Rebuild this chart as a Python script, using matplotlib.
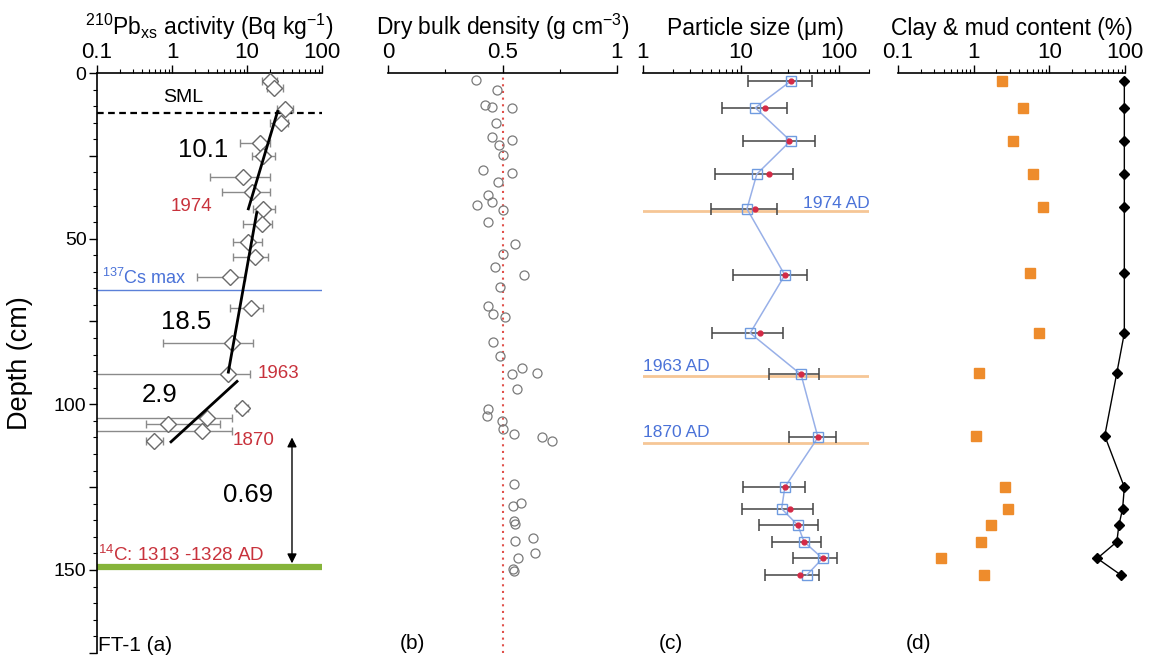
import matplotlib
matplotlib.use("Agg")
import numpy as np
import matplotlib.pyplot as plt
from matplotlib.ticker import FixedLocator, MultipleLocator, NullFormatter, LogLocator, FuncFormatter

plt.rcParams['font.family'] = ['Liberation Sans', 'DejaVu Sans']
plt.rcParams['mathtext.fontset'] = 'custom'
plt.rcParams['mathtext.rm'] = 'Liberation Sans'
plt.rcParams['mathtext.it'] = 'Liberation Sans:italic'
plt.rcParams['mathtext.bf'] = 'Liberation Sans:bold'

# ---------------- (a) 210Pb excess activity ----------------
pb_depth = [2.5, 4.5, 11, 15, 21, 25, 31.5, 36, 41, 45.5, 51, 55.5, 61.5, 71, 81.5, 91, 101, 104, 106, 108, 111]
pb_act   = [20, 23, 32, 28, 14.9, 16.5, 8.8, 11.7, 16.3, 15.8, 10.3, 12.8, 5.9, 11.3, 6.3, 5.6, 8.6, 2.9, 0.89, 2.5, 0.58]
pb_lo    = [15.9, 18.5, 25, 20.3, 8.1, 11.7, 3.2, 4.6, 12, 8.8, 6.5, 6.5, 2.15, 5.9, 0.76, 0.05, 7.2, 0.05, 0.45, 0.05, 0.45]
pb_hi    = [25, 30, 41, 35.2, 20.3, 23.6, 20.3, 20.3, 23.6, 21.5, 15.9, 19, 9.4, 16.3, 12, 11, 10.2, 6.3, 4.4, 6.3, 0.75]

# CF:CS fit segments, end points as (activity, depth)
seg_act   = [[25.9, 10.3], [13.6, 5.6], [7.6, 0.94]]
seg_depth = [[11.2, 41.4], [41.7, 90.7], [92.8, 111.6]]

sml_depth = 12.1
cs_depth = 65.6
c14_depth = 149

# ---------------- (b) dry bulk density ----------------
dbd_depth = [2.1, 5.1, 9.7, 10.2, 10.6, 15.2, 19.3, 20.3, 21.8, 24.8, 29.3, 30.3, 32.9, 36.9,
             38.9, 39.9, 41.4, 45, 51.5, 54.6, 58.6, 61.1, 64.6, 70.2, 72.7, 73.7, 81.3, 85.3,
             88.9, 90.4, 90.8, 95.3, 101.3, 103.4, 105, 107.5, 109, 110, 111, 124, 129.7, 130.6,
             135.2, 136, 140.3, 141.2, 144.8, 146.3, 149.7, 150.3]
dbd_val   = [0.384, 0.476, 0.424, 0.453, 0.541, 0.472, 0.452, 0.541, 0.484, 0.503, 0.415, 0.541,
             0.48, 0.437, 0.452, 0.389, 0.503, 0.437, 0.555, 0.503, 0.467, 0.594, 0.489, 0.437,
             0.459, 0.511, 0.459, 0.489, 0.585, 0.65, 0.541, 0.563, 0.437, 0.432, 0.498, 0.503,
             0.55, 0.672, 0.716, 0.55, 0.58, 0.546, 0.55, 0.555, 0.633, 0.555, 0.642, 0.568,
             0.546, 0.55]
dbd_mean = 0.5

# ---------------- (c) particle size ----------------
ps_depth = [2.5, 10.5, 20.5, 30.5, 41, 61, 78.5, 91, 110, 125, 131.5, 136.5, 141.5, 146.5, 151.5]
ps_mode  = [32, 14, 32, 14.5, 11.5, 28, 12.4, 41, 61, 28, 26, 38, 44, 68, 47]
ps_mean  = [32, 17.5, 31, 19.5, 14, 28, 15.5, 41, 61, 28, 31.5, 38, 44, 68, 40]
ps_lo    = [11.8, 6.4, 10.5, 5.4, 4.9, 8.3, 5.1, 19.3, 31, 10.5, 10.2, 15.3, 20.7, 34, 17.5]
ps_hi    = [52.7, 29.5, 57, 34, 23.4, 47, 26.8, 62.5, 93, 45, 54, 61, 65, 95, 62.5]

age_labels = ["1974 AD", "1963 AD", "1870 AD"]
age_depth  = [41.6, 91.6, 111.7]

# ---------------- (d) clay & mud content ----------------
cm_depth = [2.5, 10.5, 20.5, 30.5, 40.5, 60.5, 78.5, 90.5, 109.5, 125, 131.5, 136.5, 141.5, 146.5, 151.5]
clay     = [2.4, 4.5, 3.3, 6.1, 8.2, 5.5, 7.3, 1.17, 1.07, 2.6, 2.85, 1.7, 1.25, 0.37, 1.37]
mud      = [98, 98, 98, 98, 98, 98, 98, 78, 54, 98, 93, 83, 78, 43, 88]

W, H = 1151, 659
fig = plt.figure(figsize=(W / 100, H / 100), dpi=100)

top_px, bot_px = 73, 652.8
def add_panel(x0, x1):
    return fig.add_axes([x0 / W, 1 - bot_px / H, (x1 - x0) / W, (bot_px - top_px) / H])

axa = add_panel(97, 322)
axb = add_panel(388, 617)
axc = add_panel(643, 868.5)
axd = add_panel(898, 1125)

TICK_FS = 16
num_fmt = FuncFormatter(lambda v, p: f"{v:g}")

for ax in (axa, axb, axc, axd):
    ax.set_ylim(175, 0)
    ax.set_facecolor('none')
    ax.xaxis.set_ticks_position('top')
    ax.xaxis.set_label_position('top')
    for s in ('right', 'bottom'):
        ax.spines[s].set_visible(False)
    ax.spines['top'].set_linewidth(1.2)
    ax.tick_params(axis='x', which='major', direction='out', length=6, width=1, pad=1.5,
                   labelsize=TICK_FS)
    ax.tick_params(axis='x', which='minor', direction='out', length=3, width=0.8)
    if ax is not axa:
        ax.spines['left'].set_visible(False)
        ax.tick_params(axis='y', which='both', left=False, labelleft=False)

def panel_title(ax, txt):
    ax.annotate(txt, xy=(0.5, 1), xycoords='axes fraction', xytext=(0, 27.5),
                textcoords='offset points', ha='center', va='baseline', fontsize=16.5)

# ---- (a) ----
axa.set_xscale('log')
axa.set_xlim(0.1, 100)
axa.xaxis.set_major_locator(FixedLocator([0.1, 1, 10, 100]))
axa.xaxis.set_major_formatter(num_fmt)
axa.xaxis.set_minor_locator(LogLocator(base=10, subs=np.arange(2, 10)))
axa.xaxis.set_minor_formatter(NullFormatter())
axa.spines['left'].set_linewidth(1.2)
axa.yaxis.set_major_locator(MultipleLocator(25))
axa.yaxis.set_major_formatter(FuncFormatter(lambda v, p: f"{v:g}" if v % 50 == 0 else ""))
axa.yaxis.set_minor_locator(MultipleLocator(5))
axa.tick_params(axis='y', which='major', direction='out', length=6, width=1, pad=1.5, labelsize=14)
axa.tick_params(axis='y', which='minor', direction='out', length=3, width=0.8)
axa.set_ylabel("Depth (cm)", fontsize=19.5)
axa.yaxis.set_label_coords(-0.285, 0.5)
panel_title(axa, r"$^{210}$Pb$_{\mathregular{xs}}$ activity (Bq kg$^{-1}$)")

pb_act = np.array(pb_act)
xerr = [pb_act - np.array(pb_lo), np.array(pb_hi) - pb_act]
axa.errorbar(pb_act, pb_depth, xerr=xerr, fmt='none', ecolor='#8a8a8a', elinewidth=1,
             capsize=3, capthick=1, zorder=2)
axa.plot(pb_act, pb_depth, 'D', ms=8.5, mfc='white', mec='#6a6a6a', mew=1, zorder=3)
for xs, ds in zip(seg_act, seg_depth):
    axa.plot(xs, ds, color='black', lw=2, zorder=4, solid_capstyle='butt')

axa.axhline(sml_depth, color='black', lw=1.6, ls=(0, (3, 2)), zorder=1)
axa.axhline(cs_depth, color='#5b80d8', lw=1, zorder=1)
axa.axhline(c14_depth, color='#86b43a', lw=4.5, zorder=1)

red = '#c8323c'
axa.text(1.4, 7.3, "SML", ha='center', va='center', fontsize=14)
axa.text(2.6, 23.3, "10.1", ha='center', va='center', fontsize=18.5)
axa.text(1.79, 40.4, "1974", ha='center', va='center', fontsize=13.5, color=red)
axa.text(0.116, 61.9, r"$^{137}$Cs max", ha='left', va='center', fontsize=13, color='#4a72d8')
axa.text(1.54, 75.2, "18.5", ha='center', va='center', fontsize=18.5)
axa.text(14, 90.6, "1963", ha='left', va='center', fontsize=13.5, color=red)
axa.text(0.69, 97.2, "2.9", ha='center', va='center', fontsize=18.5)
axa.text(6.5, 110.8, "1870", ha='left', va='center', fontsize=13.5, color=red)
axa.text(10.3, 127.4, "0.69", ha='center', va='center', fontsize=18.5)
axa.text(0.102, 145.4, r"$^{14}$C: 1313 -1328 AD", ha='left', va='center', fontsize=13.5, color=red)
axa.text(0.102, 172.7, "FT-1 (a)", ha='left', va='center', fontsize=15)
axa.annotate("", xy=(39.8, 148), xytext=(39.8, 110),
             arrowprops=dict(arrowstyle='<|-|>', color='black', lw=1, mutation_scale=14,
                             shrinkA=0, shrinkB=0))

# ---- (b) ----
axb.set_xlim(0, 1)
axb.xaxis.set_major_locator(FixedLocator([0, 0.5, 1]))
axb.xaxis.set_major_formatter(num_fmt)
axb.xaxis.set_minor_locator(FixedLocator([0.25, 0.75]))
panel_title(axb, r"Dry bulk density (g cm$^{-3}$)")
axb.axvline(dbd_mean, color='#e0504a', lw=1.5, ls=(0, (1, 2.2)), zorder=1)
axb.plot(dbd_val, dbd_depth, 'o', ms=6.5, mfc='none', mec='#7a7a7a', mew=0.9, zorder=2)
axb.text(0.05, 172.2, "(b)", ha='left', va='center', fontsize=15)

# ---- (c) ----
axc.set_xscale('log')
axc.set_xlim(1, 200)
axc.xaxis.set_major_locator(FixedLocator([1, 10, 100]))
axc.xaxis.set_major_formatter(num_fmt)
axc.xaxis.set_minor_locator(LogLocator(base=10, subs=np.arange(2, 10)))
axc.xaxis.set_minor_formatter(NullFormatter())
panel_title(axc, "Particle size (\u03bcm)")
for lab, d in zip(age_labels, age_depth):
    axc.axhline(d, color='#f6c696', lw=2, zorder=1)
axc.text(43, 39.5, age_labels[0], ha='left', va='center', fontsize=12.5, color='#4a72d8')
axc.text(1.0, 88.5, age_labels[1], ha='left', va='center', fontsize=12.5, color='#4a72d8')
axc.text(1.0, 108.4, age_labels[2], ha='left', va='center', fontsize=12.5, color='#4a72d8')
ps_mode = np.array(ps_mode)
axc.errorbar(ps_mode, ps_depth, xerr=[ps_mode - np.array(ps_lo), np.array(ps_hi) - ps_mode],
             fmt='none', ecolor='#444444', elinewidth=1.1, capsize=4, capthick=1.1, zorder=2)
axc.plot(ps_mode, ps_depth, '-', color='#98b0e8', lw=1.1, zorder=3)
axc.plot(ps_mode, ps_depth, 's', ms=7, mfc='none', mec='#6f9be0', mew=1, zorder=4)
axc.plot(ps_mean, ps_depth, 'o', ms=3.5, color='#d42a46', zorder=5)
axc.text(1.45, 172.2, "(c)", ha='left', va='center', fontsize=15)

# ---- (d) ----
axd.set_xscale('log')
axd.set_xlim(0.1, 100)
axd.xaxis.set_major_locator(FixedLocator([0.1, 1, 10, 100]))
axd.xaxis.set_major_formatter(num_fmt)
axd.xaxis.set_minor_locator(LogLocator(base=10, subs=np.arange(2, 10)))
axd.xaxis.set_minor_formatter(NullFormatter())
panel_title(axd, "Clay & mud content (%)")
axd.plot(clay, cm_depth, 's', ms=7, color='#ee8c2c', mec='#ee8c2c', zorder=3)
axd.plot(mud, cm_depth, '-D', color='black', lw=1, ms=5, clip_on=False, zorder=3)
axd.text(0.125, 172.2, "(d)", ha='left', va='center', fontsize=15)

fig.savefig("out.png", dpi=100)
